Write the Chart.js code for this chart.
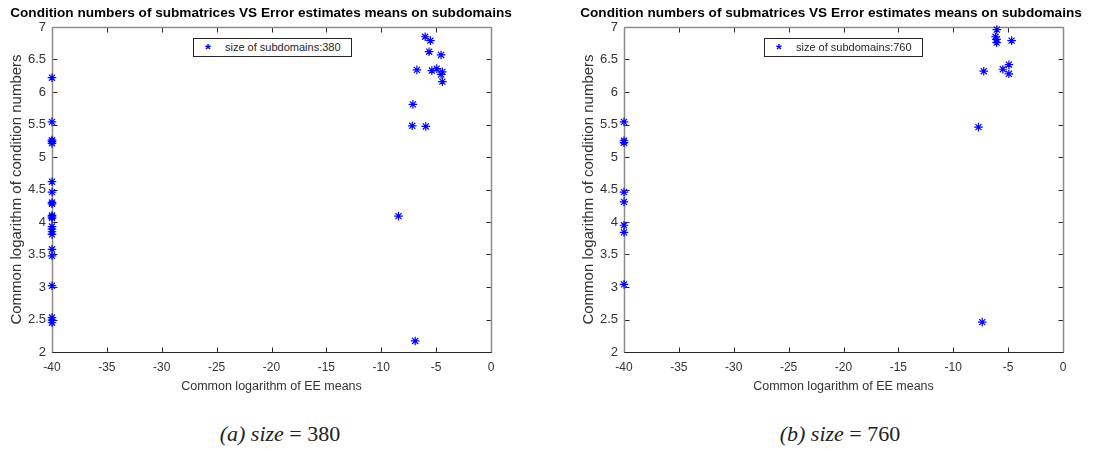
<!DOCTYPE html>
<html>
<head>
<meta charset="utf-8">
<script src="https://cdn.jsdelivr.net/npm/chart.js@4"></script>
<style>
  body { margin: 0; background: #fff; width: 1113px; height: 451px; position: relative; overflow: hidden; font-family: 'Liberation Sans', Arial, sans-serif; }
  .wrap { position: absolute; top: 0; width: 522px; height: 400px; }
  .title { position: absolute; top: 4px; width: 522px; text-align: center; font-size: 13.6px; font-weight: bold; line-height: 18px; color: #000; white-space: nowrap; }
  .legend { position: absolute; top: 38px; width: 157px; height: 17px; border: 1px solid #262626; background: #fff; font-size: 11px; color: #262626; line-height: 17px; white-space: nowrap; }
  .legend .mk { position: absolute; left: 11px; top: 1px; color: #0000ff; font-size: 15px; font-weight: bold; }
  .legend .tx { position: absolute; left: 31px; top: 0; }
  .cap { position: absolute; top: 421px; width: 300px; text-align: center; font-family: 'Liberation Serif', 'DejaVu Serif', serif; font-size: 22px; color: #222; }
  .cap i { font-style: italic; }
</style>
</head>
<body>
<div class="wrap" style="left:0px"><canvas id="chartA"></canvas></div>
<div class="wrap" style="left:572px"><canvas id="chartB"></canvas></div>
<div class="title" style="left:0px" id="titleA"></div>
<div class="title" style="left:570px" id="titleB"></div>
<div class="legend" style="left:193px"><span class="mk">*</span><span class="tx" id="legA"></span></div>
<div class="legend" style="left:764px"><span class="mk">*</span><span class="tx" id="legB"></span></div>
<div class="cap" style="left:130px"><i>(a) size</i> = 380</div>
<div class="cap" style="left:690px"><i>(b) size</i> = 760</div>
<script>
const chartTitle = 'Condition numbers of submatrices VS Error estimates means on subdomains';
const xTitle = 'Common logarithm of EE means';
const yTitle = 'Common logarithm of condition numbers';
const seriesNames = ['size of subdomains:380', 'size of subdomains:760'];

// size 380
const ee380 = [-40, -40, -40, -40, -40, -40, -40, -40, -40, -40, -40,
  -40, -40, -40, -40, -40, -40, -40, -40, -40, -40, -40,
  -6.0, -5.52, -5.64, -4.55, -6.75, -5.39, -4.94, -4.43, -4.55, -4.43,
  -7.12, -7.18, -5.94, -8.43, -6.91];
const cond380 = [6.22, 5.54, 5.26, 5.24, 5.21, 4.62, 4.46, 4.30, 4.28, 4.10, 4.08,
  4.06, 3.93, 3.89, 3.85, 3.81, 3.58, 3.48, 3.02, 2.53, 2.49, 2.45,
  6.85, 6.79, 6.62, 6.57, 6.34, 6.33, 6.36, 6.31, 6.27, 6.16,
  5.81, 5.48, 5.47, 4.09, 2.17];

// size 760
const ee760 = [-40, -40, -40, -40, -40, -40, -40, -40,
  -6.03, -6.15, -6.05, -6.05, -4.68, -4.93, -5.48, -4.93, -7.22, -7.7, -7.36];
const cond760 = [5.54, 5.25, 5.22, 4.46, 4.31, 3.95, 3.84, 3.04,
  6.96, 6.85, 6.81, 6.76, 6.79, 6.42, 6.35, 6.28, 6.32, 5.46, 2.46];

const xMin = -40, xMax = 0, xStep = 5;
const yMin = 2, yMax = 7, yStep = 0.5;

const textColor = '#333333';

document.getElementById('titleA').textContent = chartTitle;
document.getElementById('titleB').textContent = chartTitle;
document.getElementById('legA').textContent = seriesNames[0];
document.getElementById('legB').textContent = seriesNames[1];

// MATLAB style box with inward ticks on all four sides
const boxTicks = {
  id: 'boxTicks',
  beforeDatasetsDraw(chart) {
    const ctx = chart.ctx;
    const a = chart.chartArea;
    const x = chart.scales.x, y = chart.scales.y;
    const L = Math.round(a.left) + 0.5, R = Math.round(a.right) + 0.5;
    const T = Math.round(a.top) + 0.5, B = Math.round(a.bottom) + 0.5;
    const seg = (x1, y1, x2, y2) => { ctx.beginPath(); ctx.moveTo(x1, y1); ctx.lineTo(x2, y2); ctx.stroke(); };
    ctx.save();
    ctx.lineWidth = 1;
    ctx.strokeStyle = '#262626';
    x.ticks.forEach(t => {
      const px = Math.round(x.getPixelForValue(t.value)) + 0.5;
      seg(px, B, px, B - 5);
      seg(px, T, px, T + 5);
    });
    y.ticks.forEach(t => {
      const py = Math.round(y.getPixelForValue(t.value)) + 0.5;
      seg(L, py, L + 5, py);
      seg(R, py, R - 5, py);
    });
    ctx.strokeStyle = '#8c8c8c';
    ctx.lineWidth = 1.5;
    seg(L, T, R, T);
    seg(R, T, R, B);
    seg(L, T, L, B);
    ctx.lineWidth = 1;
    ctx.strokeStyle = '#262626';
    seg(L, B, R, B);
    ctx.restore();
  }
};

function makeChart(id, label, xs, ys) {
  const pts = xs.map((v, i) => ({ x: v, y: ys[i] }));
  return new Chart(document.getElementById(id), {
    type: 'scatter',
    data: {
      datasets: [{
        label: label,
        data: pts,
        pointStyle: 'star',
        pointRadius: 4.3,
        pointBorderWidth: 1.2,
        borderColor: '#0000ff',
        backgroundColor: '#0000ff',
        clip: false
      }]
    },
    options: {
      responsive: true,
      maintainAspectRatio: false,
      animation: false,
      layout: { padding: { left: 8, right: 31, top: 27, bottom: 0 } },
      plugins: {
        legend: { display: false },
        tooltip: { enabled: false },
        title: { display: false }
      },
      scales: {
        x: {
          type: 'linear',
          min: xMin, max: xMax,
          grid: { display: false, drawTicks: false },
          border: { display: false },
          ticks: { stepSize: xStep, color: textColor, padding: 8, font: { family: 'Liberation Sans', size: 12 } },
          title: { display: true, text: xTitle, color: textColor, padding: { top: 4, bottom: 6 }, font: { family: 'Liberation Sans', size: 12.5 } },
          afterFit: s => { s.height = 48; }
        },
        y: {
          type: 'linear',
          min: yMin, max: yMax,
          grid: { display: false, drawTicks: false },
          border: { display: false },
          ticks: { stepSize: yStep, color: textColor, padding: 6, font: { family: 'Liberation Sans', size: 13 }, callback: v => String(v) },
          title: { display: true, text: yTitle, color: textColor, padding: 0, font: { family: 'Liberation Sans', size: 15 } },
          afterFit: s => { s.width = 44; }
        }
      }
    },
    plugins: [boxTicks]
  });
}

makeChart('chartA', seriesNames[0], ee380, cond380);
makeChart('chartB', seriesNames[1], ee760, cond760);
</script>
</body>
</html>
